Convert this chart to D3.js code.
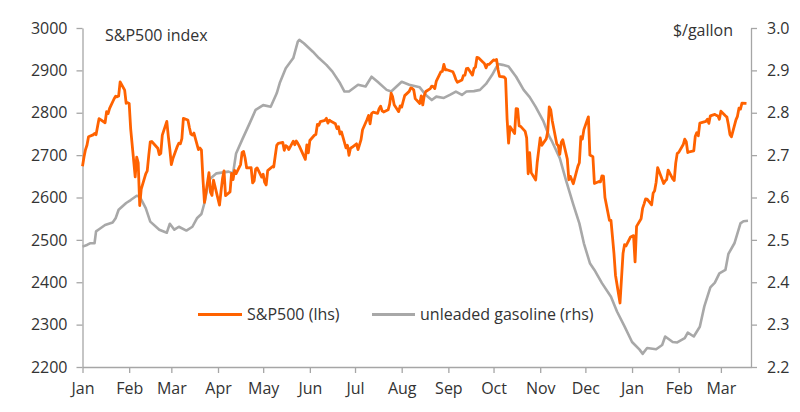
<!DOCTYPE html>
<html>
<head>
<meta charset="utf-8">
<script src="https://cdn.jsdelivr.net/npm/d3@7"></script>
<style>
  body { margin: 0; background: #fff; }
  text { font-family: "Open Sans", sans-serif; fill: #333; }
</style>
</head>
<body>
<div class="canva"></div>
<script>
// S&P500 daily closes (lhs)
const spxData = [
  ["2018-01-01",2673.6],["2018-01-02",2695.8],["2018-01-03",2713.1],["2018-01-04",2724.0],["2018-01-05",2743.2],
  ["2018-01-08",2747.7],["2018-01-09",2751.3],["2018-01-10",2748.2],["2018-01-11",2767.6],["2018-01-12",2786.2],
  ["2018-01-16",2776.4],["2018-01-17",2802.6],["2018-01-18",2798.0],["2018-01-19",2810.3],["2018-01-22",2833.0],
  ["2018-01-23",2839.1],["2018-01-24",2837.5],["2018-01-25",2839.3],["2018-01-26",2872.9],["2018-01-29",2853.5],
  ["2018-01-30",2822.4],["2018-01-31",2823.8],["2018-02-01",2822.0],["2018-02-02",2762.1],["2018-02-05",2648.9],
  ["2018-02-06",2695.1],["2018-02-07",2681.7],["2018-02-08",2581.0],["2018-02-09",2619.6],["2018-02-12",2656.0],
  ["2018-02-13",2662.9],["2018-02-14",2698.6],["2018-02-15",2731.2],["2018-02-16",2732.2],["2018-02-20",2716.3],
  ["2018-02-21",2701.3],["2018-02-22",2704.0],["2018-02-23",2747.3],["2018-02-26",2779.6],["2018-02-27",2744.3],
  ["2018-02-28",2713.8],["2018-03-01",2677.7],["2018-03-02",2691.3],["2018-03-05",2720.9],["2018-03-06",2728.1],
  ["2018-03-07",2726.8],["2018-03-08",2739.0],["2018-03-09",2786.6],["2018-03-12",2783.0],["2018-03-13",2765.3],
  ["2018-03-14",2749.5],["2018-03-15",2747.3],["2018-03-16",2752.0],["2018-03-19",2712.9],["2018-03-20",2716.9],
  ["2018-03-21",2711.9],["2018-03-22",2643.7],["2018-03-23",2588.3],["2018-03-26",2658.6],["2018-03-27",2612.6],
  ["2018-03-28",2605.0],["2018-03-29",2640.9],["2018-04-02",2581.9],["2018-04-03",2614.5],["2018-04-04",2644.7],
  ["2018-04-05",2662.8],["2018-04-06",2604.5],["2018-04-09",2613.2],["2018-04-10",2656.9],["2018-04-11",2642.2],
  ["2018-04-12",2664.0],["2018-04-13",2656.3],["2018-04-16",2677.8],["2018-04-17",2706.4],["2018-04-18",2708.6],
  ["2018-04-19",2693.1],["2018-04-20",2670.1],["2018-04-23",2670.3],["2018-04-24",2634.6],["2018-04-25",2639.4],
  ["2018-04-26",2666.9],["2018-04-27",2669.9],["2018-04-30",2648.1],["2018-05-01",2654.8],["2018-05-02",2635.7],
  ["2018-05-03",2629.7],["2018-05-04",2663.4],["2018-05-07",2672.6],["2018-05-08",2671.9],["2018-05-09",2697.8],
  ["2018-05-10",2723.1],["2018-05-11",2727.7],["2018-05-14",2730.1],["2018-05-15",2711.5],["2018-05-16",2722.5],
  ["2018-05-17",2720.1],["2018-05-18",2713.0],["2018-05-21",2733.0],["2018-05-22",2724.4],["2018-05-23",2733.3],
  ["2018-05-24",2727.8],["2018-05-25",2721.3],["2018-05-29",2689.9],["2018-05-30",2724.0],["2018-05-31",2705.3],
  ["2018-06-01",2734.6],["2018-06-04",2746.9],["2018-06-05",2748.8],["2018-06-06",2772.4],["2018-06-07",2770.4],
  ["2018-06-08",2779.0],["2018-06-11",2782.0],["2018-06-12",2786.9],["2018-06-13",2775.6],["2018-06-14",2782.5],
  ["2018-06-15",2779.7],["2018-06-18",2773.9],["2018-06-19",2762.6],["2018-06-20",2767.3],["2018-06-21",2749.8],
  ["2018-06-22",2754.9],["2018-06-25",2717.1],["2018-06-26",2723.1],["2018-06-27",2699.6],["2018-06-28",2716.3],
  ["2018-06-29",2718.4],["2018-07-02",2726.7],["2018-07-03",2713.2],["2018-07-05",2736.6],["2018-07-06",2759.8],
  ["2018-07-09",2784.2],["2018-07-10",2793.8],["2018-07-11",2774.0],["2018-07-12",2798.3],["2018-07-13",2801.3],
  ["2018-07-16",2798.4],["2018-07-17",2809.6],["2018-07-18",2815.6],["2018-07-19",2804.5],["2018-07-20",2801.8],
  ["2018-07-23",2807.0],["2018-07-24",2820.4],["2018-07-25",2846.1],["2018-07-26",2837.4],["2018-07-27",2818.8],
  ["2018-07-30",2802.6],["2018-07-31",2816.3],["2018-08-01",2813.4],["2018-08-02",2827.2],["2018-08-03",2840.4],
  ["2018-08-06",2850.4],["2018-08-07",2858.5],["2018-08-08",2857.7],["2018-08-09",2853.6],["2018-08-10",2833.3],
  ["2018-08-13",2821.9],["2018-08-14",2840.0],["2018-08-15",2818.4],["2018-08-16",2840.7],["2018-08-17",2850.1],
  ["2018-08-20",2857.1],["2018-08-21",2863.0],["2018-08-22",2861.8],["2018-08-23",2857.0],["2018-08-24",2874.7],
  ["2018-08-27",2896.7],["2018-08-28",2897.5],["2018-08-29",2914.0],["2018-08-30",2901.1],["2018-08-31",2901.5],
  ["2018-09-04",2896.7],["2018-09-05",2888.6],["2018-09-06",2878.1],["2018-09-07",2871.7],["2018-09-10",2877.1],
  ["2018-09-11",2887.9],["2018-09-12",2888.9],["2018-09-13",2904.2],["2018-09-14",2905.0],["2018-09-17",2888.8],
  ["2018-09-18",2904.3],["2018-09-19",2908.0],["2018-09-20",2930.8],["2018-09-21",2929.7],["2018-09-24",2919.4],
  ["2018-09-25",2915.6],["2018-09-26",2906.0],["2018-09-27",2914.0],["2018-09-28",2914.0],["2018-10-01",2924.6],
  ["2018-10-02",2923.4],["2018-10-03",2925.5],["2018-10-04",2901.6],["2018-10-05",2885.6],["2018-10-08",2884.4],
  ["2018-10-09",2880.3],["2018-10-10",2785.7],["2018-10-11",2728.4],["2018-10-12",2767.1],["2018-10-15",2750.8],
  ["2018-10-16",2809.9],["2018-10-17",2809.2],["2018-10-18",2768.8],["2018-10-19",2767.8],["2018-10-22",2755.9],
  ["2018-10-23",2740.7],["2018-10-24",2656.1],["2018-10-25",2705.6],["2018-10-26",2658.7],["2018-10-29",2641.3],
  ["2018-10-30",2682.6],["2018-10-31",2711.7],["2018-11-01",2740.4],["2018-11-02",2723.1],["2018-11-05",2738.3],
  ["2018-11-06",2755.5],["2018-11-07",2813.9],["2018-11-08",2806.8],["2018-11-09",2781.0],["2018-11-12",2726.2],
  ["2018-11-13",2722.2],["2018-11-14",2701.6],["2018-11-15",2730.2],["2018-11-16",2736.3],["2018-11-19",2690.7],
  ["2018-11-20",2641.9],["2018-11-21",2649.9],["2018-11-23",2632.6],["2018-11-26",2673.5],["2018-11-27",2682.2],
  ["2018-11-28",2743.8],["2018-11-29",2737.8],["2018-11-30",2760.2],["2018-12-03",2790.4],["2018-12-04",2700.1],
  ["2018-12-06",2696.0],["2018-12-07",2633.1],["2018-12-10",2637.7],["2018-12-11",2636.8],["2018-12-12",2651.1],
  ["2018-12-13",2650.5],["2018-12-14",2600.0],["2018-12-17",2545.9],["2018-12-18",2546.2],["2018-12-19",2507.0],
  ["2018-12-20",2467.4],["2018-12-21",2416.6],["2018-12-24",2351.1],["2018-12-26",2467.7],["2018-12-27",2488.8],
  ["2018-12-28",2485.7],["2018-12-31",2506.9],["2019-01-02",2510.0],["2019-01-03",2447.9],["2019-01-04",2531.9],
  ["2019-01-07",2549.7],["2019-01-08",2574.4],["2019-01-09",2585.0],["2019-01-10",2596.6],["2019-01-11",2596.3],
  ["2019-01-14",2582.6],["2019-01-15",2610.3],["2019-01-16",2616.1],["2019-01-17",2636.0],["2019-01-18",2670.7],
  ["2019-01-22",2632.9],["2019-01-23",2638.7],["2019-01-24",2642.3],["2019-01-25",2664.8],["2019-01-28",2643.9],
  ["2019-01-29",2640.0],["2019-01-30",2681.1],["2019-01-31",2704.1],["2019-02-01",2706.5],["2019-02-04",2724.9],
  ["2019-02-05",2737.7],["2019-02-06",2731.6],["2019-02-07",2706.1],["2019-02-08",2707.9],["2019-02-11",2709.8],
  ["2019-02-12",2744.7],["2019-02-13",2753.0],["2019-02-14",2745.7],["2019-02-15",2775.6],["2019-02-19",2779.8],
  ["2019-02-20",2784.7],["2019-02-21",2774.9],["2019-02-22",2792.7],["2019-02-25",2796.1],["2019-02-26",2793.9],
  ["2019-02-27",2792.4],["2019-02-28",2784.5],["2019-03-01",2803.7],["2019-03-04",2792.8],["2019-03-05",2789.7],
  ["2019-03-06",2771.5],["2019-03-07",2748.9],["2019-03-08",2743.1],["2019-03-11",2783.3],["2019-03-12",2791.5],
  ["2019-03-13",2810.9],["2019-03-14",2808.5],["2019-03-15",2822.5],["2019-03-18",2822.0]
];

// unleaded gasoline, $/gallon (rhs)
const gasData = [
  ["2018-01-01",2.484],["2018-01-04",2.488],["2018-01-06",2.492],["2018-01-09",2.492],["2018-01-10",2.520],
  ["2018-01-12",2.525],["2018-01-16",2.535],["2018-01-21",2.541],["2018-01-23",2.551],["2018-01-25",2.571],
  ["2018-01-30",2.587],["2018-02-02",2.594],["2018-02-06",2.604],["2018-02-08",2.602],["2018-02-12",2.575],
  ["2018-02-15",2.543],["2018-02-21",2.524],["2018-02-26",2.517],["2018-02-28",2.538],["2018-03-03",2.524],
  ["2018-03-06",2.531],["2018-03-11",2.522],["2018-03-15",2.531],["2018-03-18",2.551],["2018-03-21",2.561],
  ["2018-03-23",2.587],["2018-03-26",2.642],["2018-03-31",2.657],["2018-04-08",2.661],["2018-04-11",2.657],
  ["2018-04-13",2.704],["2018-04-17",2.736],["2018-04-22",2.775],["2018-04-26",2.807],["2018-05-01",2.818],
  ["2018-05-06",2.814],["2018-05-10",2.846],["2018-05-12",2.870],["2018-05-16",2.905],["2018-05-21",2.929],
  ["2018-05-24",2.968],["2018-05-25",2.972],["2018-05-28",2.964],["2018-06-03",2.944],["2018-06-07",2.929],
  ["2018-06-12",2.913],["2018-06-16",2.897],["2018-06-21",2.870],["2018-06-24",2.850],["2018-06-27",2.850],
  ["2018-07-03",2.866],["2018-07-08",2.862],["2018-07-12",2.885],["2018-07-16",2.873],["2018-07-22",2.854],
  ["2018-07-25",2.850],["2018-08-01",2.873],["2018-08-06",2.866],["2018-08-13",2.860],["2018-08-17",2.842],
  ["2018-08-21",2.830],["2018-08-24",2.838],["2018-08-29",2.835],["2018-09-02",2.842],["2018-09-06",2.850],
  ["2018-09-10",2.842],["2018-09-13",2.850],["2018-09-18",2.851],["2018-09-22",2.854],["2018-09-26",2.868],
  ["2018-09-30",2.889],["2018-10-04",2.915],["2018-10-07",2.913],["2018-10-11",2.909],["2018-10-16",2.885],
  ["2018-10-21",2.854],["2018-10-25",2.837],["2018-10-29",2.814],["2018-11-03",2.781],["2018-11-07",2.744],
  ["2018-11-09",2.731],["2018-11-14",2.693],["2018-11-18",2.642],["2018-11-23",2.583],["2018-11-27",2.539],
  ["2018-11-30",2.492],["2018-12-04",2.445],["2018-12-07",2.429],["2018-12-12",2.398],["2018-12-18",2.366],
  ["2018-12-22",2.331],["2018-12-27",2.296],["2019-01-01",2.259],["2019-01-06",2.241],["2019-01-08",2.231],
  ["2019-01-11",2.245],["2019-01-17",2.242],["2019-01-21",2.252],["2019-01-23",2.272],["2019-01-28",2.259],
  ["2019-01-31",2.258],["2019-02-05",2.268],["2019-02-07",2.281],["2019-02-11",2.272],["2019-02-15",2.295],
  ["2019-02-18",2.343],["2019-02-22",2.388],["2019-02-25",2.399],["2019-02-28",2.421],["2019-03-04",2.429],
  ["2019-03-06",2.467],["2019-03-10",2.492],["2019-03-14",2.539],["2019-03-16",2.544],["2019-03-19",2.545]
];

const leftTicks = [2200, 2300, 2400, 2500, 2600, 2700, 2800, 2900, 3000];
const rightTicks = [2.2, 2.3, 2.4, 2.5, 2.6, 2.7, 2.8, 2.9, 3.0];
const monthTicks = ["2018-01-01","2018-02-01","2018-03-01","2018-04-01","2018-05-01","2018-06-01","2018-07-01",
  "2018-08-01","2018-09-01","2018-10-01","2018-11-01","2018-12-01","2019-01-01","2019-02-01","2019-03-01"];
const dateRange = ["2018-01-01", "2019-03-21"];
const seriesNames = ["S&P500 (lhs)", "unleaded gasoline (rhs)"];

const orange = "#ff6200";
const grey = "#a8a8a8";
const axisGrey = "#a6a6a6";
const font = "'Open Sans', sans-serif";

const parseDate = d3.timeParse("%Y-%m-%d");
const spx = spxData.map(d => ({date: parseDate(d[0]), v: d[1]}));
const gas = gasData.map(d => ({date: parseDate(d[0]), v: d[1]}));

const svg = d3.select(".canva").append("svg")
  .attr("width", 800)
  .attr("height", 412);

const plot = {left: 82.5, right: 751, top: 28, bottom: 367};

// scales
const x = d3.scaleTime()
  .domain(dateRange.map(parseDate))
  .range([plot.left, plot.right]);
const yL = d3.scaleLinear().domain([2200, 3000]).range([plot.bottom, plot.top]);
const yR = d3.scaleLinear().domain([2.2, 3.0]).range([plot.bottom, plot.top]);

// axes
function styleAxis(g) {
  g.select(".domain").attr("stroke", axisGrey).attr("stroke-width", 1.3);
  g.selectAll(".tick line").attr("stroke", axisGrey).attr("stroke-width", 1.3);
  g.selectAll(".tick text").style("font-size", "16px").attr("fill", "#333")
    .style("font-family", font);
}

svg.append("g")
  .attr("transform", `translate(${plot.left},0)`)
  .call(d3.axisLeft(yL).tickValues(leftTicks).tickSize(6).tickSizeOuter(0).tickPadding(9).tickFormat(d3.format("d")))
  .call(styleAxis);

svg.append("g")
  .attr("transform", `translate(${plot.right},0)`)
  .call(d3.axisRight(yR).tickValues(rightTicks).tickSize(6).tickSizeOuter(0).tickPadding(10).tickFormat(d3.format(".1f")))
  .call(styleAxis);

svg.append("g")
  .attr("transform", `translate(0,${plot.bottom})`)
  .call(d3.axisBottom(x).tickValues(monthTicks.map(parseDate)).tickSize(6).tickSizeOuter(0).tickPadding(10)
    .tickFormat(d3.timeFormat("%b")))
  .call(styleAxis);

// lines
const gasLine = d3.line().x(d => x(d.date)).y(d => yR(d.v));
const spxLine = d3.line().x(d => x(d.date)).y(d => yL(d.v));

svg.append("path")
  .datum(gas)
  .attr("fill", "none")
  .attr("stroke", grey)
  .attr("stroke-width", 2.6)
  .attr("stroke-linejoin", "round")
  .attr("d", gasLine);

svg.append("path")
  .datum(spx)
  .attr("fill", "none")
  .attr("stroke", orange)
  .attr("stroke-width", 2.8)
  .attr("stroke-linejoin", "round")
  .attr("d", spxLine);

// axis titles
svg.append("text").attr("x", 105).attr("y", 40.5).text("S&P500 index").style("font-size", "16px");
svg.append("text").attr("x", 733).attr("y", 36).attr("text-anchor", "end").text("$/gallon").style("font-size", "16px");

// legend
const legend = svg.append("g");
legend.append("line").attr("x1", 198).attr("x2", 242).attr("y1", 314.5).attr("y2", 314.5)
  .attr("stroke", orange).attr("stroke-width", 3);
legend.append("text").attr("x", 247).attr("y", 320).text(seriesNames[0]).style("font-size", "16px");
legend.append("line").attr("x1", 372).attr("x2", 415).attr("y1", 314.5).attr("y2", 314.5)
  .attr("stroke", grey).attr("stroke-width", 3);
legend.append("text").attr("x", 420).attr("y", 320).text(seriesNames[1]).style("font-size", "16px");
</script>
</body>
</html>
